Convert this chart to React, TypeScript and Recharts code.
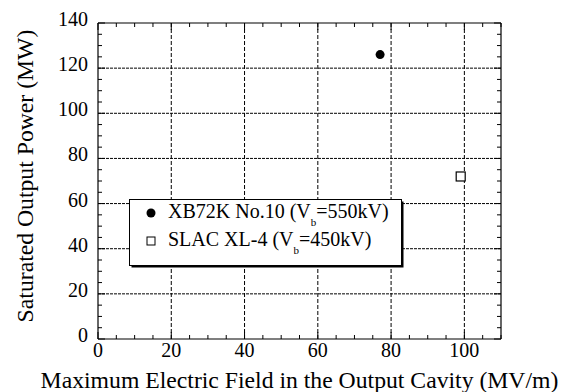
import React from 'react';
import { ScatterChart, Scatter, XAxis, YAxis, ReferenceLine, Legend } from 'recharts';

// ---- data ----
const xTicks = [0, 5, 10, 15, 20, 25, 30, 35, 40, 45, 50, 55, 60, 65, 70, 75, 80, 85, 90, 95, 100, 105, 110];
const yTicks = [0, 5, 10, 15, 20, 25, 30, 35, 40, 45, 50, 55, 60, 65, 70, 75, 80, 85, 90, 95, 100, 105, 110, 115, 120, 125, 130, 135, 140];
const xTickLabels = [0, 20, 40, 60, 80, 100];
const yTickLabels = [0, 20, 40, 60, 80, 100, 120, 140];
const gridX = [20, 40, 60, 80, 100];
const gridY = [20, 40, 60, 80, 100, 120];
const xb72kData = [{ field: 77, power: 126 }];
const slacData = [{ field: 99, power: 72 }];

const xTitle = 'Maximum Electric Field in the Output Cavity (MV/m)';
const yTitle = 'Saturated Output Power (MW)';

const FONT = '"Liberation Serif", "Times New Roman", serif';
const W = 562;
const H = 392;
const M = { top: 23, right: 61, left: 0, bottom: 0 };
const X_AXIS_H = 53;
const Y_AXIS_W = 98;
const PLOT_TOP = M.top;
const PLOT_RIGHT = W - M.right;

const XTick = (props: any) => {
  const { x, y, payload } = props;
  const v = payload.value;
  const len = v % 20 === 0 ? 7 : 4;
  return (
    <g>
      <line x1={x} y1={y} x2={x} y2={y - len} stroke="#000" strokeWidth={1} />
      <line x1={x} y1={PLOT_TOP} x2={x} y2={PLOT_TOP + len} stroke="#000" strokeWidth={1} />
      {xTickLabels.includes(v) && (
        <text x={x} y={y + 18} textAnchor="middle" fontSize={20} fontFamily={FONT} fill="#000">
          {v}
        </text>
      )}
    </g>
  );
};

const YTick = (props: any) => {
  const { x, y, payload } = props;
  const v = payload.value;
  const len = v % 20 === 0 ? 7 : 4;
  return (
    <g>
      <line x1={x} y1={y} x2={x + len} y2={y} stroke="#000" strokeWidth={1} />
      <line x1={PLOT_RIGHT - len} y1={y} x2={PLOT_RIGHT} y2={y} stroke="#000" strokeWidth={1} />
      {yTickLabels.includes(v) && (
        <text x={x - 10} y={y + 3} textAnchor="end" fontSize={20} fontFamily={FONT} fill="#000">
          {v}
        </text>
      )}
    </g>
  );
};

const XTitle = (props: any) => {
  const vb = props.viewBox || { x: 98, y: 339, width: 403, height: 53 };
  const cx = vb.x + vb.width / 2;
  return (
    <text x={cx} y={vb.y + 49} textAnchor="middle" fontSize={23.7} fontFamily={FONT} fill="#000">
      {xTitle}
    </text>
  );
};

const YTitle = () => {
  const cx = 33;
  const cy = 176;
  return (
    <text
      x={cx}
      y={cy}
      transform={`rotate(-90, ${cx}, ${cy})`}
      textAnchor="middle"
      fontSize={23.7}
      fontFamily={FONT}
      fill="#000"
    >
      {yTitle}
    </text>
  );
};

const FilledDot = (p: any) => <circle cx={p.cx} cy={p.cy} r={4.5} fill="#000" />;
const OpenSquare = (p: any) => (
  <rect x={p.cx - 4.5} y={p.cy - 4.5} width={9} height={9} fill="#fff" stroke="#000" strokeWidth={1.2} />
);

const LegendBox = () => (
  <svg width={276} height={70} style={{ display: 'block', overflow: 'visible' }}>
    <rect x={2.5} y={2.5} width={272} height={66} fill="#000" />
    <rect x={0.5} y={0.5} width={272} height={66} fill="#fff" stroke="#000" strokeWidth={1} />
    <circle cx={22} cy={14} r={4.5} fill="#000" />
    <text x={39} y={19} fontSize={20} fontFamily={FONT} fill="#000">
      <tspan>XB72K No.10 (V</tspan>
      <tspan fontSize={11} dy={8}>b</tspan>
      <tspan dy={-8}>=550kV)</tspan>
    </text>
    <rect x={18} y={38} width={8} height={8} fill="#fff" stroke="#000" strokeWidth={1} />
    <text x={39} y={47} fontSize={20} fontFamily={FONT} fill="#000">
      <tspan>SLAC XL-4 (V</tspan>
      <tspan fontSize={11} dy={8}>b</tspan>
      <tspan dy={-8}>=450kV)</tspan>
    </text>
  </svg>
);

export default function App() {
  return (
    <div style={{ position: 'absolute', left: 0, top: 0, width: W, height: H, background: '#fff' }}>
      <ScatterChart width={W} height={H} margin={M}>
        <XAxis
          dataKey="field"
          type="number"
          domain={[0, 110]}
          ticks={xTicks}
          interval={0}
          height={X_AXIS_H}
          tickSize={0}
          tickMargin={0}
          tickLine={false}
          axisLine={{ stroke: '#000', strokeWidth: 1.2 }}
          tick={<XTick />}
          label={<XTitle />}
          allowDataOverflow
        />
        <YAxis
          dataKey="power"
          type="number"
          domain={[0, 140]}
          ticks={yTicks}
          interval={0}
          width={Y_AXIS_W}
          tickSize={0}
          tickMargin={0}
          tickLine={false}
          axisLine={{ stroke: '#000', strokeWidth: 1.2 }}
          tick={<YTick />}
          label={<YTitle />}
          allowDataOverflow
        />
        {gridX.map((v) => (
          <ReferenceLine key={`gx${v}`} x={v} stroke="#000" strokeWidth={1} strokeDasharray="4 2" />
        ))}
        {gridY.map((v) => (
          <ReferenceLine key={`gy${v}`} y={v} stroke="#000" strokeWidth={1} strokeDasharray="3 1" />
        ))}
        <ReferenceLine y={140} stroke="#000" strokeWidth={1.2} />
        <ReferenceLine x={110} stroke="#000" strokeWidth={1.2} />
        <Scatter name="XB72K No.10" data={xb72kData} shape={<FilledDot />} isAnimationActive={false} />
        <Scatter name="SLAC XL-4" data={slacData} shape={<OpenSquare />} isAnimationActive={false} />
        <Legend
          verticalAlign="middle"
          align="center"
          layout="horizontal"
          wrapperStyle={{ position: 'absolute', left: 129, top: 199, width: 276, height: 70 }}
          content={() => <LegendBox />}
        />
      </ScatterChart>
    </div>
  );
}
